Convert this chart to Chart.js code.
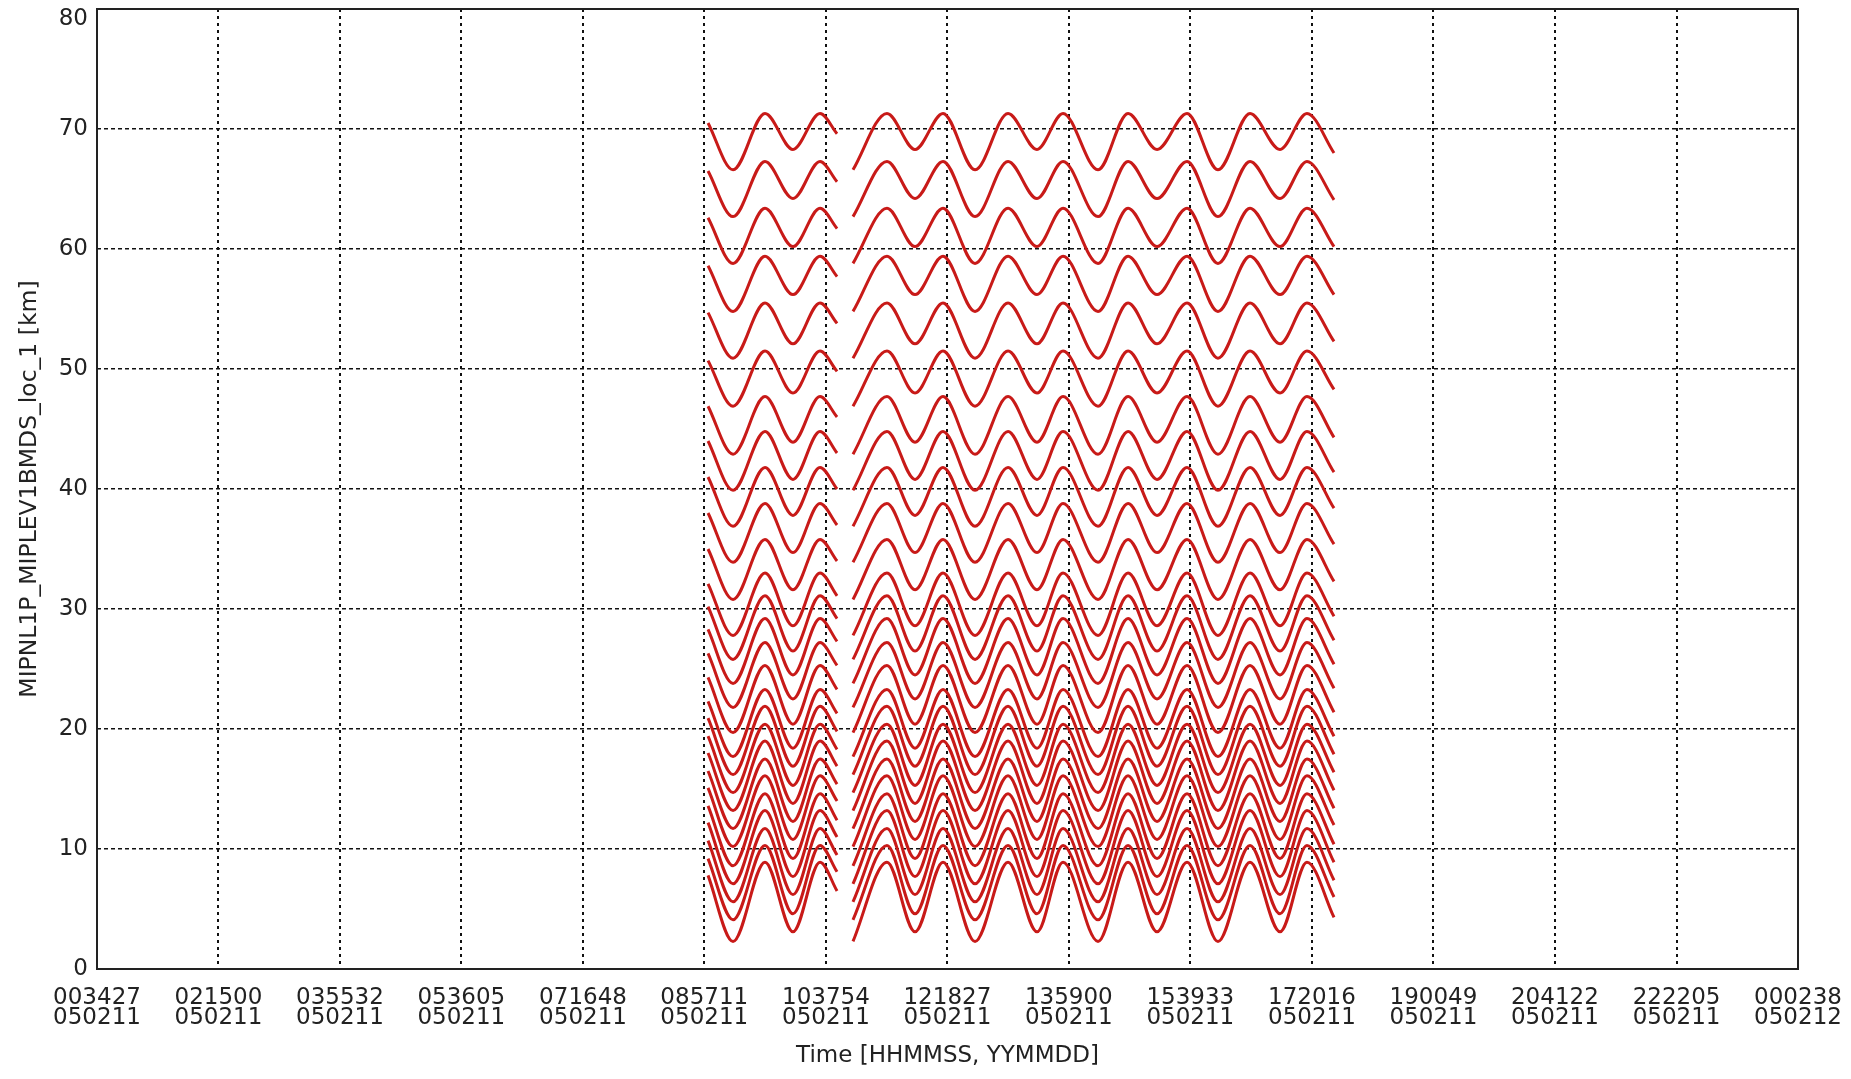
<!DOCTYPE html>
<html>
<head>
<meta charset="utf-8">
<title>MIPNL1P_MIPLEV1BMDS_loc_1</title>
<script src="https://cdn.jsdelivr.net/npm/chart.js@4.4.1/dist/chart.umd.min.js"></script>
<style>
  html, body { margin: 0; padding: 0; background: #fff; }
  canvas { display: block; }
</style>
</head>
<body>
<canvas id="chart" width="1851" height="1079"></canvas>
<script>
// x axis tick labels (HHMMSS / YYMMDD)
const tickTimes = ['003427', '021500', '035532', '053605', '071648', '085711', '103754', '121827',
  '135900', '153933', '172016', '190049', '204122', '222205', '000238'];
const tickDates = ['050211', '050211', '050211', '050211', '050211', '050211', '050211', '050211',
  '050211', '050211', '050211', '050211', '050211', '050211', '050212'];

// turning points of the scan pattern, hours of 050211
const seg1Hours = [9.005, 9.350, 9.791, 10.177, 10.550, 10.785];
const seg1Kinds = ['start', 'deep', 'peak', 'shallow', 'peak', 'end1'];
const gapHour = 10.9;
const seg2Hours = [11.005, 11.474, 11.861, 12.247, 12.689, 13.144, 13.544, 13.903, 14.386,
  14.800, 15.200, 15.614, 16.041, 16.483, 16.897, 17.269, 17.642];
const seg2Kinds = ['deep', 'peak', 'shallow', 'peak', 'deep', 'peak', 'shallow', 'peak', 'deep',
  'peak', 'shallow', 'peak', 'deep', 'peak', 'shallow', 'peak', 'end2'];

// tangent height [km] of each sweep (top to bottom) at the turning points
const peakKm    = [71.3, 67.3, 63.4, 59.4, 55.5, 51.5, 47.7, 44.8, 41.8, 38.8, 35.8, 33.0, 31.1, 29.2,
  27.2, 25.3, 23.3, 21.9, 20.4, 19.0, 17.5, 16.1, 14.6, 13.2, 11.7, 10.3, 8.9];
const shallowKm = [68.3, 64.2, 60.2, 56.2, 52.1, 48.0, 43.9, 40.8, 37.8, 34.7, 31.6, 28.6, 26.5, 24.5,
  22.5, 20.4, 18.4, 16.9, 15.3, 13.8, 12.3, 10.8, 9.2, 7.7, 6.2, 4.6, 3.1];
const deepKm    = [66.6, 62.7, 58.8, 54.8, 50.9, 46.9, 42.9, 39.9, 36.9, 33.9, 30.8, 27.8, 25.8, 23.8,
  21.8, 19.7, 17.7, 16.2, 14.7, 13.2, 11.7, 10.2, 8.6, 7.1, 5.6, 4.1, 2.3];
const startKm   = [70.5, 66.5, 62.6, 58.6, 54.7, 50.7, 46.9, 44.0, 41.0, 38.0, 35.0, 32.1, 30.2, 28.3,
  26.3, 24.3, 22.3, 20.9, 19.4, 18.0, 16.5, 15.1, 13.6, 12.2, 10.7, 9.2, 7.8];
const end1Km    = [69.6, 65.6, 61.7, 57.7, 53.8, 49.8, 46.0, 43.0, 40.0, 37.0, 34.0, 31.1, 29.2, 27.3,
  25.3, 23.3, 21.3, 19.8, 18.3, 16.9, 15.4, 14.0, 12.4, 11.0, 9.5, 8.1, 6.5];
const end2Km    = [68.0, 64.1, 60.2, 56.2, 52.3, 48.3, 44.3, 41.4, 38.4, 35.4, 32.3, 29.4, 27.4, 25.4,
  23.4, 21.4, 19.4, 17.9, 16.4, 14.9, 13.4, 12.0, 10.4, 8.9, 7.4, 6.0, 4.3];

const yTicks = [0, 10, 20, 30, 40, 50, 60, 70, 80];

function toHours(hhmmss, yymmdd) {
  const h = +hhmmss.slice(0, 2), m = +hhmmss.slice(2, 4), s = +hhmmss.slice(4, 6);
  const day = yymmdd === tickDates[0] ? 0 : 24;
  return day + h + m / 60 + s / 3600;
}
const tickHours = tickTimes.map((t, i) => toHours(t, tickDates[i]));

const datasets = peakKm.map((_, i) => {
  const level = {
    start: startKm[i], peak: peakKm[i], shallow: shallowKm[i], deep: deepKm[i],
    end1: end1Km[i], end2: end2Km[i]
  };
  const pts = seg1Hours.map((h, j) => ({x: h, y: level[seg1Kinds[j]]}));
  pts.push({x: gapHour, y: null});
  seg2Hours.forEach((h, j) => pts.push({x: h, y: level[seg2Kinds[j]]}));
  return {
    data: pts,
    borderColor: '#c81a18',
    borderWidth: 3,
    pointRadius: 0,
    cubicInterpolationMode: 'monotone',
    spanGaps: false,
    fill: false
  };
});

// solid frame round the plot area
const frame = {
  id: 'frame',
  afterDraw(chart) {
    const {ctx, chartArea: a} = chart;
    ctx.save();
    ctx.strokeStyle = '#222';
    ctx.lineWidth = 2;
    ctx.strokeRect(a.left, a.top, a.right - a.left, a.bottom - a.top);
    ctx.restore();
  }
};

// keep the plot area where the layout padding puts it
function noPad(scale) {
  scale.paddingLeft = 0;
  scale.paddingRight = 0;
  scale.paddingTop = 0;
  scale.paddingBottom = 0;
}

const tickFont = {family: 'DejaVu Sans', size: 23, lineHeight: 0.87};

new Chart(document.getElementById('chart'), {
  type: 'line',
  data: {datasets},
  plugins: [frame],
  options: {
    responsive: false,
    animation: false,
    events: [],
    layout: {padding: {left: 0, top: 9, right: 53, bottom: 0}},
    plugins: {legend: {display: false}, tooltip: {enabled: false}},
    scales: {
      x: {
        type: 'linear',
        z: 1,
        min: tickHours[0],
        max: tickHours[tickHours.length - 1],
        afterBuildTicks: (scale) => { scale.ticks = tickHours.map(v => ({value: v})); },
        afterFit: (scale) => { scale.height = 110; noPad(scale); },
        ticks: {
          autoSkip: false,
          maxRotation: 0,
          padding: 19,
          color: '#222',
          font: tickFont,
          callback: (value, index) => [tickTimes[index], tickDates[index]]
        },
        grid: {color: '#111', lineWidth: 2, drawTicks: false},
        border: {display: false, dash: [3, 4]},
        title: {
          display: true,
          text: 'Time [HHMMSS, YYMMDD]',
          color: '#222',
          font: {family: 'DejaVu Sans', size: 23},
          padding: {top: 0, bottom: 9}
        }
      },
      y: {
        min: 0,
        max: 80,
        z: 1,
        afterBuildTicks: (scale) => { scale.ticks = yTicks.map(v => ({value: v})); },
        afterFit: (scale) => { scale.width = 97; noPad(scale); },
        ticks: {
          padding: 9,
          color: '#222',
          font: {family: 'DejaVu Sans', size: 23, lineHeight: 0.9},
          // top label sits just below the frame corner
          callback: (value) => value === yTicks[yTicks.length - 1] ? ['', String(value)] : String(value)
        },
        grid: {color: '#111', lineWidth: 1.5, drawTicks: false},
        border: {display: false, dash: [4, 3]},
        title: {
          display: true,
          text: 'MIPNL1P_MIPLEV1BMDS_loc_1 [km]',
          color: '#222',
          font: {family: 'DejaVu Sans', size: 23.5},
          padding: {top: 16, bottom: 0}
        }
      }
    }
  }
});
</script>
</body>
</html>
